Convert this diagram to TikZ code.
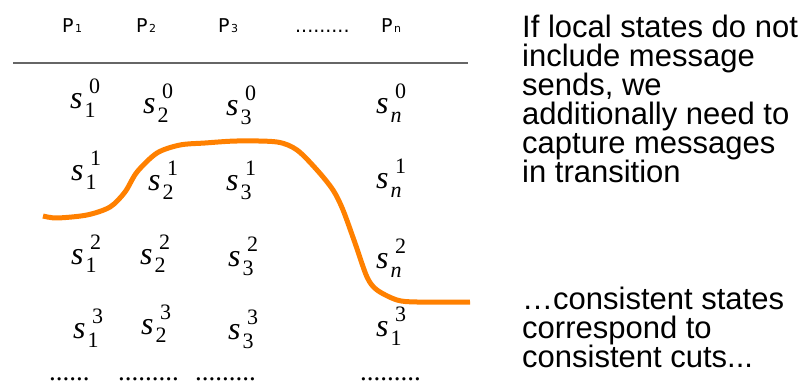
\documentclass[tikz,border=0pt]{standalone}
\usepackage{fontspec}
\setmainfont{Liberation Serif}
\newfontfamily\tms{Liberation Serif}
\newfontfamily\hel{Liberation Sans}
\newfontfamily\vrd{DejaVu Sans}
\definecolor{cutorange}{HTML}{FF8000}
\definecolor{rulegray}{HTML}{666666}
\newcommand{\scr}{\tms\fontsize{22}{22}\selectfont}
\newcommand{\cellst}[2]{{\tms\fontsize{32}{32}\selectfont\itshape s}\kern2pt\raisebox{-9pt}{\rlap{\scr #1}}\kern4.5pt\raisebox{15pt}{\scr #2}}
\newcommand{\proc}[1]{P\kern1.5pt{\fontsize{11}{11}\selectfont #1}}
\begin{document}
\begin{tikzpicture}[x=1pt,y=-1pt,
  hdr/.style={anchor=base west,inner sep=0pt,font=\vrd\fontsize{19}{19}\selectfont},
  cellnode/.style={anchor=base west,inner sep=0pt},
  dotrow/.style={anchor=base west,inner sep=0pt,font=\tms\fontsize{27}{27}\selectfont},
  note/.style={anchor=base west,inner sep=0pt,font=\hel\fontsize{31}{31}\selectfont},
  cut/.style={draw=cutorange,line width=5pt,line join=round}]
\useasboundingbox (0,0) rectangle (812,385);
% header
\node[hdr] (p1) at (62,33) {\proc{1}};
\node[hdr] (p2) at (136,33) {\proc{2}};
\node[hdr] (p3) at (218,33) {\proc{3}};
\node[hdr] (pd) at (295,33) {.........};
\node[hdr] (pn) at (381,33) {\proc{n}};
\coordinate (rl) at (13,63);
\coordinate (rr) at (468,63);
\draw[rulegray,line width=1.3pt] (rl) -- (rr);
% states
\node[cellnode] (c01) at (70,109) {\cellst{1}{0}};
\node[cellnode] (c02) at (143,114) {\cellst{2}{0}};
\node[cellnode] (c03) at (226,116) {\cellst{3}{0}};
\node[cellnode] (c0n) at (376,114) {\cellst{\itshape n}{0}};
\node[cellnode] (c11) at (71,181) {\cellst{1}{1}};
\node[cellnode] (c12) at (148,191) {\cellst{2}{1}};
\node[cellnode] (c13) at (226,191) {\cellst{3}{1}};
\node[cellnode] (c1n) at (376,189) {\cellst{\itshape n}{1}};
\node[cellnode] (c21) at (71,264) {\cellst{1}{2}};
\node[cellnode] (c22) at (140,264) {\cellst{2}{2}};
\node[cellnode] (c23) at (228,266) {\cellst{3}{2}};
\node[cellnode] (c2n) at (376,269) {\cellst{\itshape n}{2}};
\node[cellnode] (c31) at (73,338) {\cellst{1}{3}};
\node[cellnode] (c32) at (141,334) {\cellst{2}{3}};
\node[cellnode] (c33) at (228,339) {\cellst{3}{3}};
\node[cellnode] (c3n) at (376,336) {\cellst{1}{3}};
% bottom dots
\node[dotrow] (d1) at (49,380) {......};
\node[dotrow] (d2) at (118,380) {.........};
\node[dotrow] (d3) at (195,380) {.........};
\node[dotrow] (d4) at (360,380) {.........};
% cut
\draw[cut] plot[smooth,tension=0.5] coordinates {(43,216) (57,218) (87,215) (110,207) (125,192) (137,172) (157,153) (180,145) (205,143) (237,141) (277,142) (297,150) (317,170) (333,190) (343,210) (355,243) (367,277) (377,290) (397,300) (417,302) (470,302)};
% notes
\node[note] (t1) at (522,38) {If local states do not};
\node[note] (t2) at (522,67) {include message};
\node[note] (t3) at (522,96) {sends, we};
\node[note] (t4) at (522,125) {additionally need to};
\node[note] (t5) at (522,154) {capture messages};
\node[note] (t6) at (522,183) {in transition};
\node[note] (t7) at (522,309) {\ldots consistent states};
\node[note] (t8) at (522,338) {correspond to};
\node[note] (t9) at (522,367) {consistent cuts...};
\end{tikzpicture}
\end{document}
